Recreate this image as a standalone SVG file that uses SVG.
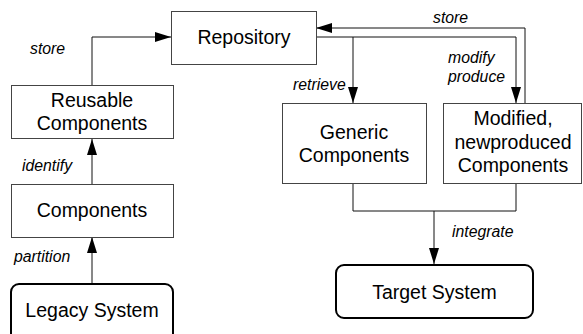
<svg xmlns="http://www.w3.org/2000/svg" width="583" height="334" viewBox="0 0 583 334">
<style>
.box{fill:#fff;stroke:#444;stroke-width:1}
.rbox{fill:#fff;stroke:#000;stroke-width:2}
.t{font-family:"Liberation Sans",Arial,sans-serif;font-size:19.5px;fill:#000;text-anchor:middle}
.l{font-family:"Liberation Sans",Arial,sans-serif;font-size:15.8px;font-style:italic;fill:#000}
.c{fill:none;stroke:#111;stroke-width:1}
</style>
<defs>
<marker id="ah" markerUnits="userSpaceOnUse" markerWidth="16" markerHeight="10" refX="16" refY="5" orient="auto">
<path d="M0,0 L16,5 L0,10 z" fill="#000"/>
</marker>
</defs>
<g id="connectors">
<path class="c" d="M92,85 V37 H171" marker-end="url(#ah)"/>
<path class="c" d="M92,184 V139" marker-end="url(#ah)"/>
<path class="c" d="M92,283 V237" marker-end="url(#ah)"/>
<path class="c" d="M316,37 H516 V103" marker-end="url(#ah)"/>
<path class="c" d="M353,37 V103" marker-end="url(#ah)"/>
<path class="c" d="M525,103 V28 H316" marker-end="url(#ah)"/>
<path class="c" d="M353,184 V211 H516 V184"/>
<path class="c" d="M434,211 V264" marker-end="url(#ah)"/>
<text class="l" x="30" y="54">store</text>
<text class="l" x="22" y="171">identify</text>
<text class="l" x="14" y="262">partition</text>
<text class="l" x="293" y="90">retrieve</text>
<text class="l" x="448" y="63">modify</text>
<text class="l" x="448" y="82">produce</text>
<text class="l" x="433" y="23">store</text>
<text class="l" x="452" y="237">integrate</text>
</g>
<g id="repository">
<rect class="box" x="171.5" y="11.5" width="145" height="53"/>
<text class="t" x="244" y="44">Repository</text>
</g>
<g id="reusable">
<rect class="box" x="11.5" y="85.5" width="162" height="53"/>
<text class="t" x="92" y="107">Reusable</text>
<text class="t" x="92" y="130">Components</text>
</g>
<g id="components">
<rect class="box" x="11.5" y="184.5" width="162" height="53"/>
<text class="t" x="92" y="217">Components</text>
</g>
<g id="legacy">
<rect class="rbox" x="11" y="284" width="162" height="60" rx="8"/>
<text class="t" x="92" y="317">Legacy System</text>
</g>
<g id="generic">
<rect class="box" x="282.5" y="103.5" width="144" height="80"/>
<text class="t" x="354" y="139">Generic</text>
<text class="t" x="354" y="162">Components</text>
</g>
<g id="modified">
<rect class="box" x="443.5" y="103.5" width="138" height="80"/>
<text class="t" x="513" y="125">Modified,</text>
<text class="t" x="513" y="149">newproduced</text>
<text class="t" x="513" y="172">Components</text>
</g>
<g id="target">
<rect class="rbox" x="336" y="265" width="197" height="53" rx="8"/>
<text class="t" x="434.5" y="299">Target System</text>
</g>
</svg>
